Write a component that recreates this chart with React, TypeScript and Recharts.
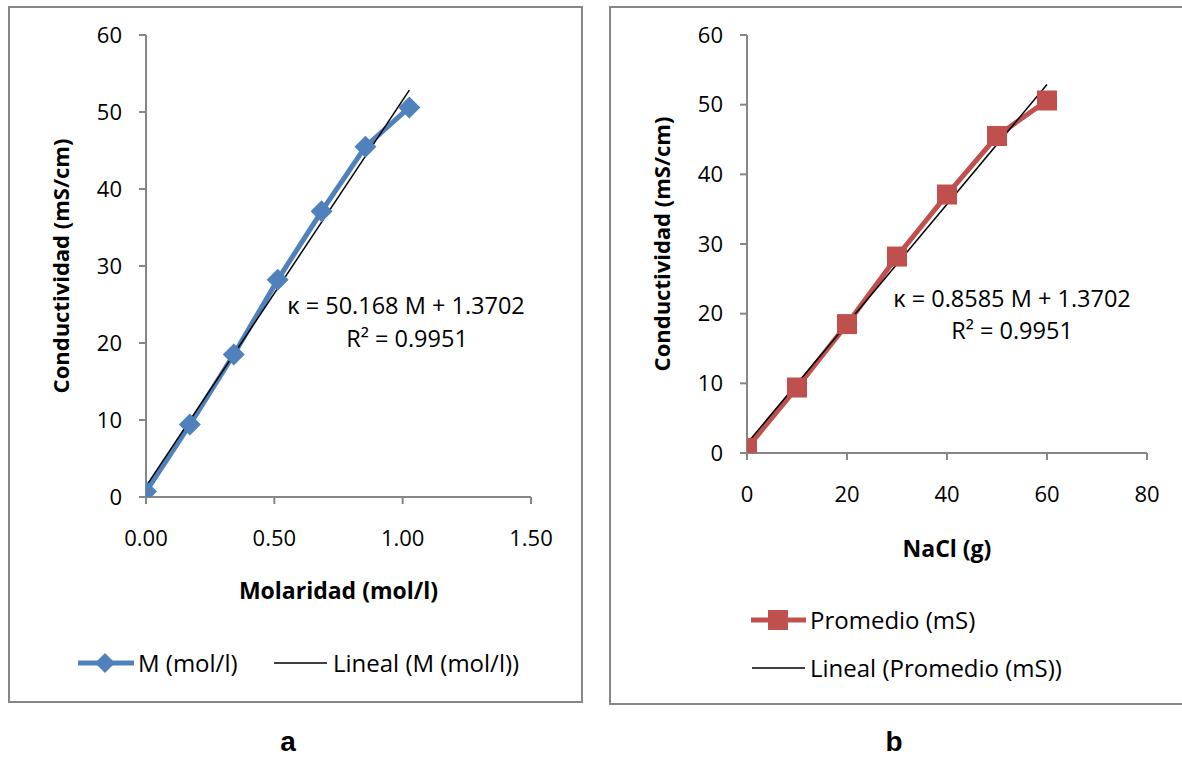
import React from 'react';
import { ComposedChart, Line, XAxis, YAxis } from 'recharts';

// values
const molarity = [0, 0.171, 0.342, 0.513, 0.684, 0.855, 1.026];
const naclGrams = [0, 10, 20, 30, 40, 50, 60];
const conductivity = [0.7, 9.4, 18.5, 28.2, 37.1, 45.5, 50.6];

const molarityTicks = [0, 0.5, 1, 1.5];
const gramTicks = [0, 20, 40, 60, 80];
const condTicks = [0, 10, 20, 30, 40, 50, 60];

// fitted lines as printed on the charts
const fitA = { slope: 50.168, intercept: 1.3702 };
const fitB = { slope: 0.8585, intercept: 1.3702 };

const BLUE = '#4f81bd';
const RED = '#c0504d';
const AXIS = '#868686';
const FONT = '"Open Sans", sans-serif';

const seriesA = molarity.map((x, i) => ({ x, y: conductivity[i] }));
const seriesB = naclGrams.map((x, i) => ({ x, y: conductivity[i] }));
const trendPoints = (xs: number[], fit: { slope: number; intercept: number }) =>
  [xs[0], xs[xs.length - 1]].map((x) => ({ x, y: fit.slope * x + fit.intercept }));

const Diamond = (props: any) => {
  const { cx, cy, index } = props;
  if (cx == null || cy == null) return <g key={index} />;
  const r = 11;
  return (
    <polygon
      key={index}
      points={`${cx},${cy - r} ${cx + r},${cy} ${cx},${cy + r} ${cx - r},${cy}`}
      fill={BLUE}
    />
  );
};

const Square = (props: any) => {
  const { cx, cy, index } = props;
  if (cx == null || cy == null) return <g key={index} />;
  return <rect key={index} x={cx - 10} y={cy - 10} width={20} height={20} fill={RED} />;
};

const yTitle = (offset: number) => (props: any) => {
  const { viewBox } = props;
  const x = viewBox.x + offset;
  const y = viewBox.y + viewBox.height / 2;
  return (
    <text
      x={x}
      y={y}
      transform={`rotate(-90 ${x} ${y})`}
      textAnchor="middle"
      dominantBaseline="central"
      fontFamily={FONT}
      fontWeight="bold"
      fontSize={22}
      fill="#000"
    >
      Conductividad (mS/cm)
    </text>
  );
};

const xTitle = (text: string, dy: number) => (props: any) => {
  const { viewBox } = props;
  return (
    <text
      x={viewBox.x + viewBox.width / 2}
      y={viewBox.y + dy}
      textAnchor="middle"
      dominantBaseline="central"
      fontFamily={FONT}
      fontWeight="bold"
      fontSize={23}
      fill="#000"
    >
      {text}
    </text>
  );
};

const tickStyle = { fontSize: 22, fill: '#000', fontFamily: FONT };

const abs = (left: number, top: number): React.CSSProperties => ({
  position: 'absolute',
  left,
  top,
});

const legendText: React.CSSProperties = {
  position: 'absolute',
  fontFamily: FONT,
  fontSize: 24,
  lineHeight: '30px',
  whiteSpace: 'nowrap',
  color: '#000',
};

const eqText: React.CSSProperties = {
  position: 'absolute',
  fontFamily: FONT,
  fontSize: 23.5,
  lineHeight: '32px',
  whiteSpace: 'nowrap',
  textAlign: 'center',
  width: 300,
  color: '#000',
};

const caption: React.CSSProperties = {
  position: 'absolute',
  top: 726,
  width: 100,
  textAlign: 'center',
  fontFamily: '"Liberation Sans", Arial, sans-serif',
  fontWeight: 'bold',
  fontSize: 28,
};

export default function App() {
  return (
    <div
      style={{
        position: 'absolute',
        left: 0,
        top: 0,
        width: 1182,
        height: 757,
        background: '#fff',
        overflow: 'hidden',
      }}
    >
      {/* chart frames */}
      <div style={{ ...abs(8, 6), width: 575, height: 697, border: `2px solid ${AXIS}`, boxSizing: 'border-box' }} />
      <div style={{ ...abs(609, 6), width: 590, height: 699, border: `2px solid ${AXIS}`, boxSizing: 'border-box' }} />

      {/* chart a */}
      <div style={abs(0, 0)}>
        <ComposedChart width={590} height={710} margin={{ top: 35, right: 59, bottom: 93, left: 0 }}>
          <XAxis
            type="number"
            dataKey="x"
            domain={[0, 1.5]}
            ticks={molarityTicks}
            tickFormatter={(v: number) => v.toFixed(2)}
            height={120}
            tick={tickStyle}
            tickSize={7}
            tickMargin={26}
            axisLine={{ stroke: AXIS, strokeWidth: 2 }}
            tickLine={{ stroke: AXIS, strokeWidth: 2 }}
            allowDataOverflow
            label={{ content: xTitle('Molaridad (mol/l)', 93) }}
          />
          <YAxis
            type="number"
            domain={[0, 60]}
            ticks={condTicks}
            width={146}
            tick={tickStyle}
            tickSize={7}
            tickMargin={17}
            axisLine={{ stroke: AXIS, strokeWidth: 2 }}
            tickLine={{ stroke: AXIS, strokeWidth: 2 }}
            allowDataOverflow
            label={{ content: yTitle(60) }}
          />
          <Line
            data={seriesA}
            dataKey="y"
            type="linear"
            stroke={BLUE}
            strokeWidth={5}
            dot={Diamond}
            activeDot={false}
            isAnimationActive={false}
          />
          <Line
            data={trendPoints(molarity, fitA)}
            dataKey="y"
            type="linear"
            stroke="#000"
            strokeWidth={1.5}
            dot={false}
            activeDot={false}
            isAnimationActive={false}
          />
        </ComposedChart>
      </div>

      {/* chart b */}
      <div style={abs(600, 0)}>
        <ComposedChart width={582} height={710} margin={{ top: 35, right: 35, bottom: 137, left: 0 }}>
          <XAxis
            type="number"
            dataKey="x"
            domain={[0, 80]}
            ticks={gramTicks}
            height={120}
            tick={tickStyle}
            tickSize={7}
            tickMargin={26}
            axisLine={{ stroke: AXIS, strokeWidth: 2 }}
            tickLine={{ stroke: AXIS, strokeWidth: 2 }}
            allowDataOverflow
            label={{ content: xTitle('NaCl (g)', 95) }}
          />
          <YAxis
            type="number"
            domain={[0, 60]}
            ticks={condTicks}
            width={147}
            tick={tickStyle}
            tickSize={7}
            tickMargin={17}
            axisLine={{ stroke: AXIS, strokeWidth: 2 }}
            tickLine={{ stroke: AXIS, strokeWidth: 2 }}
            allowDataOverflow
            label={{ content: yTitle(61) }}
          />
          <Line
            data={seriesB}
            dataKey="y"
            type="linear"
            stroke={RED}
            strokeWidth={5}
            dot={Square}
            activeDot={false}
            isAnimationActive={false}
          />
          <Line
            data={trendPoints(naclGrams, fitB)}
            dataKey="y"
            type="linear"
            stroke="#000"
            strokeWidth={1.5}
            dot={false}
            activeDot={false}
            isAnimationActive={false}
          />
        </ComposedChart>
      </div>

      {/* trend equations */}
      <div style={{ ...eqText, left: 406 - 150, top: 305 - 16 }}>κ = 50.168 M + 1.3702</div>
      <div style={{ ...eqText, left: 407 - 150, top: 338 - 16 }}>R² = 0.9951</div>
      <div style={{ ...eqText, left: 1012 - 150, top: 298 - 16 }}>κ = 0.8585 M + 1.3702</div>
      <div style={{ ...eqText, left: 1012 - 150, top: 330 - 16 }}>R² = 0.9951</div>

      {/* legend a */}
      <svg style={abs(76, 650)} width={62} height={26}>
        <line x1={2} y1={13} x2={58} y2={13} stroke={BLUE} strokeWidth={5} />
        <polygon points="29,3 39,13 29,23 19,13" fill={BLUE} />
      </svg>
      <div style={{ ...legendText, left: 138, top: 648 }}>M (mol/l)</div>
      <svg style={abs(272, 650)} width={58} height={26}>
        <line x1={2} y1={13} x2={55} y2={13} stroke="#000" strokeWidth={1.5} />
      </svg>
      <div style={{ ...legendText, left: 333, top: 648 }}>Lineal (M (mol/l))</div>

      {/* legend b */}
      <svg style={abs(748, 607)} width={62} height={26}>
        <line x1={3} y1={13} x2={58} y2={13} stroke={RED} strokeWidth={5} />
        <rect x={20} y={3} width={20} height={20} fill={RED} />
      </svg>
      <div style={{ ...legendText, left: 810, top: 605 }}>Promedio (mS)</div>
      <svg style={abs(750, 655)} width={58} height={26}>
        <line x1={2} y1={13} x2={55} y2={13} stroke="#000" strokeWidth={1.5} />
      </svg>
      <div style={{ ...legendText, left: 810, top: 653 }}>Lineal (Promedio (mS))</div>

      {/* panel captions */}
      <div style={{ ...caption, left: 238 }}>a</div>
      <div style={{ ...caption, left: 844 }}>b</div>
    </div>
  );
}
